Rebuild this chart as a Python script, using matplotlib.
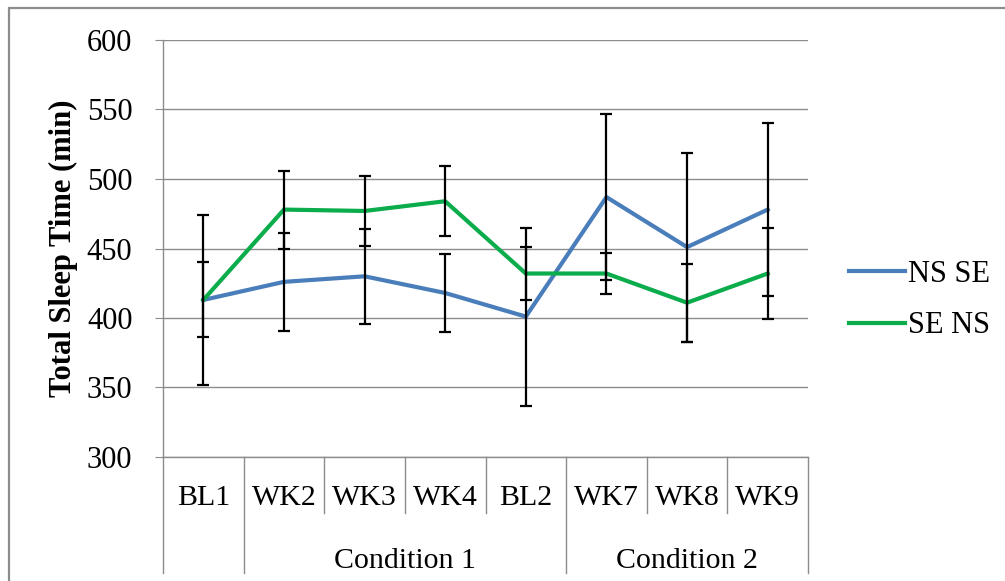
import matplotlib
matplotlib.use("Agg")
from matplotlib import pyplot as plt
from matplotlib.patches import Rectangle

# weekly total sleep time, means and error half-widths (min)
weeks = ["BL1", "WK2", "WK3", "WK4", "BL2", "WK7", "WK8", "WK9"]
groups = [("Condition 1", 1, 4), ("Condition 2", 5, 7)]

ns_se = [413, 426, 430, 418, 401, 487, 451, 478]
ns_se_err = [61, 35, 34, 28, 64, 60, 68, 62]

se_ns = [413, 478, 477, 484, 432, 432, 411, 432]
se_ns_err = [27, 28, 25, 25, 19, 15, 28, 33]

blue = "#4a7ebb"
green = "#0aac4b"
grey = "#8c8c8c"
serif = "Liberation Serif"

fig = plt.figure(figsize=(10.05, 5.81), dpi=100)
W, H = 1005, 581
ax = fig.add_axes([163 / W, (H - 457) / H, 645 / W, 417 / H])

x = list(range(len(weeks)))
l1, = ax.plot(x, ns_se, color=blue, lw=3, zorder=3, label="NS SE")
l2, = ax.plot(x, se_ns, color=green, lw=3, zorder=3, label="SE NS")
for vals, errs in [(ns_se, ns_se_err), (se_ns, se_ns_err)]:
    ax.errorbar(x, vals, yerr=errs, fmt="none", ecolor="black",
                elinewidth=1.6, capsize=4.5, capthick=1.6, zorder=4)

ax.set_xlim(-0.5, len(weeks) - 0.5)
ax.set_ylim(300, 600)
ax.set_yticks(range(300, 601, 50))
ax.yaxis.grid(True, color=grey, lw=1)
ax.set_axisbelow(True)
for s in ["top", "right"]:
    ax.spines[s].set_visible(False)
for s in ["left", "bottom"]:
    ax.spines[s].set_color(grey)
    ax.spines[s].set_linewidth(1)
ax.tick_params(axis="y", direction="out", length=6, color=grey,
               labelsize=22, pad=16)
for t in ax.get_yticklabels():
    t.set_fontfamily(serif)
ax.set_xticks([])

ax.set_ylabel("Total Sleep Time (min)", fontsize=22, fontweight="bold",
              fontfamily=serif, labelpad=6)

# two-level category axis below the plot
tr = ax.get_xaxis_transform()
row1, row2 = -56 / 417, -116 / 417
for i in range(len(weeks) + 1):
    b = i - 0.5
    full = b in (-0.5, 0.5, 4.5, len(weeks) - 0.5)
    ax.plot([b, b], [0, row2 if full else row1], transform=tr,
            color=grey, lw=1, clip_on=False)
for i, w in enumerate(weeks):
    ax.text(i, -48 / 417, w, transform=tr, ha="center", va="baseline",
            fontsize=21.5, fontfamily=serif)
for name, a, b in groups:
    ax.text((a + b) / 2, -111 / 417, name, transform=tr, ha="center",
            va="baseline", fontsize=21.5, fontfamily=serif)

ax.legend(handles=[l1, l2], loc="center left",
          bbox_to_anchor=(821 / W, (H - 300) / H),
          bbox_transform=fig.transFigure, frameon=False,
          prop={"family": serif, "size": 22}, handlelength=1.85,
          handletextpad=0.1, labelspacing=0.75)

# chart frame, only top and left edges fall inside the image
fig.patches.append(Rectangle((9 / W, -0.05), 1.1, (H - 8) / H + 0.05,
                             transform=fig.transFigure, fill=False,
                             edgecolor=grey, lw=1.6))

fig.savefig("out.png", dpi=100)
